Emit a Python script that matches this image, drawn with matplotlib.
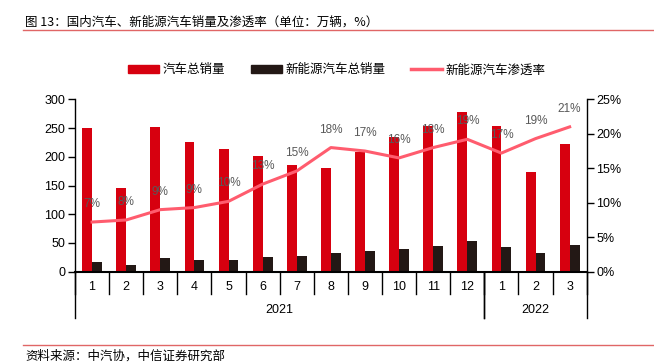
import matplotlib
matplotlib.use('Agg')
import matplotlib.pyplot as plt
import numpy as np
from matplotlib.patches import Patch
from matplotlib.lines import Line2D
from matplotlib.transforms import blended_transform_factory

plt.rcParams['font.family'] = ['Liberation Sans', 'Noto Sans CJK SC', 'DejaVu Sans']

# data
months = ['1', '2', '3', '4', '5', '6', '7', '8', '9', '10', '11', '12', '1', '2', '3']
years = ['2021', '2022']
year_spans = [(0, 11), (12, 14)]
total_sales = [250, 145, 252, 225, 213, 201, 186, 180, 208, 234, 253, 278, 253, 174, 223]
nev_sales = [17, 11, 23, 20, 21, 25, 27, 32, 36, 39, 45, 53, 43, 33, 46]
penetration = [7.2, 7.5, 9.0, 9.3, 10.2, 12.7, 14.6, 18.0, 17.5, 16.5, 18.0, 19.2, 17.2, 19.3, 21.0]
pen_labels = ['7%', '8%', '9%', '9%', '10%', '13%', '15%', '18%', '17%', '16%', '18%', '19%', '17%', '19%', '21%']

red = '#D7000F'
dark = '#231815'
pink = '#FF5C6E'
gray = '#595959'

fig = plt.figure(figsize=(6.54, 3.62), dpi=100)
ax = fig.add_axes([75 / 654, 90.3 / 362, 511.7 / 654, 172.4 / 362])
ax2 = ax.twinx()

x = np.arange(len(months))
w = 0.29
ax.bar(x - w / 2, total_sales, w, color=red, zorder=2)
ax.bar(x + w / 2, nev_sales, w, color=dark, zorder=2)

ax2.plot(x, penetration, color=pink, lw=2.2, zorder=3)
for xi, yi, lab in zip(x, penetration, pen_labels):
    ax2.annotate(lab, (xi, yi), xytext=(0, 13), textcoords='offset points',
                 ha='center', va='center', fontsize=8.5, color=gray)

ax.set_xlim(-0.5, len(months) - 0.5)
ax.set_ylim(0, 300)
ax.set_yticks(range(0, 301, 50))
ax2.set_ylim(0, 25)
ax2.set_yticks(range(0, 26, 5))
ax2.set_yticklabels([f'{v}%' for v in range(0, 26, 5)])

for a in (ax, ax2):
    a.spines['top'].set_visible(False)
    a.spines['bottom'].set_visible(False)
    a.tick_params(axis='y', direction='out', length=5, width=1, labelsize=9, pad=2, colors='black')
    a.set_xticks([])
ax.spines['right'].set_visible(False)
ax2.spines['left'].set_visible(False)
ax.spines['left'].set_linewidth(1)
ax2.spines['right'].set_linewidth(1)
ax.axhline(0, color='black', lw=1.5, zorder=4, clip_on=False)

# two-level category axis
trans = blended_transform_factory(ax.transData, ax.transAxes)
for b in np.arange(-0.5, len(months), 1.0):
    ax.plot([b, b], [0, -0.129], color='black', lw=1, transform=trans, clip_on=False)
for xi, m in zip(x, months):
    ax.text(xi, -0.087, m, transform=trans, ha='center', va='center', fontsize=9)
for yr, (s, e) in zip(years, year_spans):
    for b in (s - 0.5, e + 0.5):
        ax.plot([b, b], [0, -0.2686], color='black', lw=1, transform=trans, clip_on=False)
    ax.text((s + e) / 2, -0.222, yr, transform=trans, ha='center', va='center', fontsize=9)

# legend
handles = [Patch(color=red), Patch(color=dark), Line2D([], [], color=pink, lw=2.5)]
labels = ['汽车总销量', '新能源汽车总销量', '新能源汽车渗透率']
fig.legend(handles, labels, loc='center', bbox_to_anchor=(0.515, 1 - 70 / 362), ncol=3,
           frameon=False, fontsize=9, handlelength=2.5, handleheight=0.55,
           handletextpad=0.3, columnspacing=2.0,
           prop={'family': ['Noto Sans CJK SC'], 'size': 9})

# title and source
fig.text(25 / 654, 1 - 22.5 / 362, '图 13：国内汽车、新能源汽车销量及渗透率（单位：万辆，%）',
         ha='left', va='center', fontsize=9, family=['Noto Sans CJK SC'])
fig.add_artist(Line2D([23 / 654, 1], [1 - 29.5 / 362] * 2, color='#E06666', lw=1))
fig.add_artist(Line2D([23 / 654, 1], [1 - 345 / 362] * 2, color='#E06666', lw=1))
fig.text(25 / 654, 1 - 356 / 362, '资料来源：中汽协，中信证券研究部',
         ha='left', va='center', fontsize=9, family=['Noto Sans CJK SC'])

fig.savefig('out.png', dpi=100)
